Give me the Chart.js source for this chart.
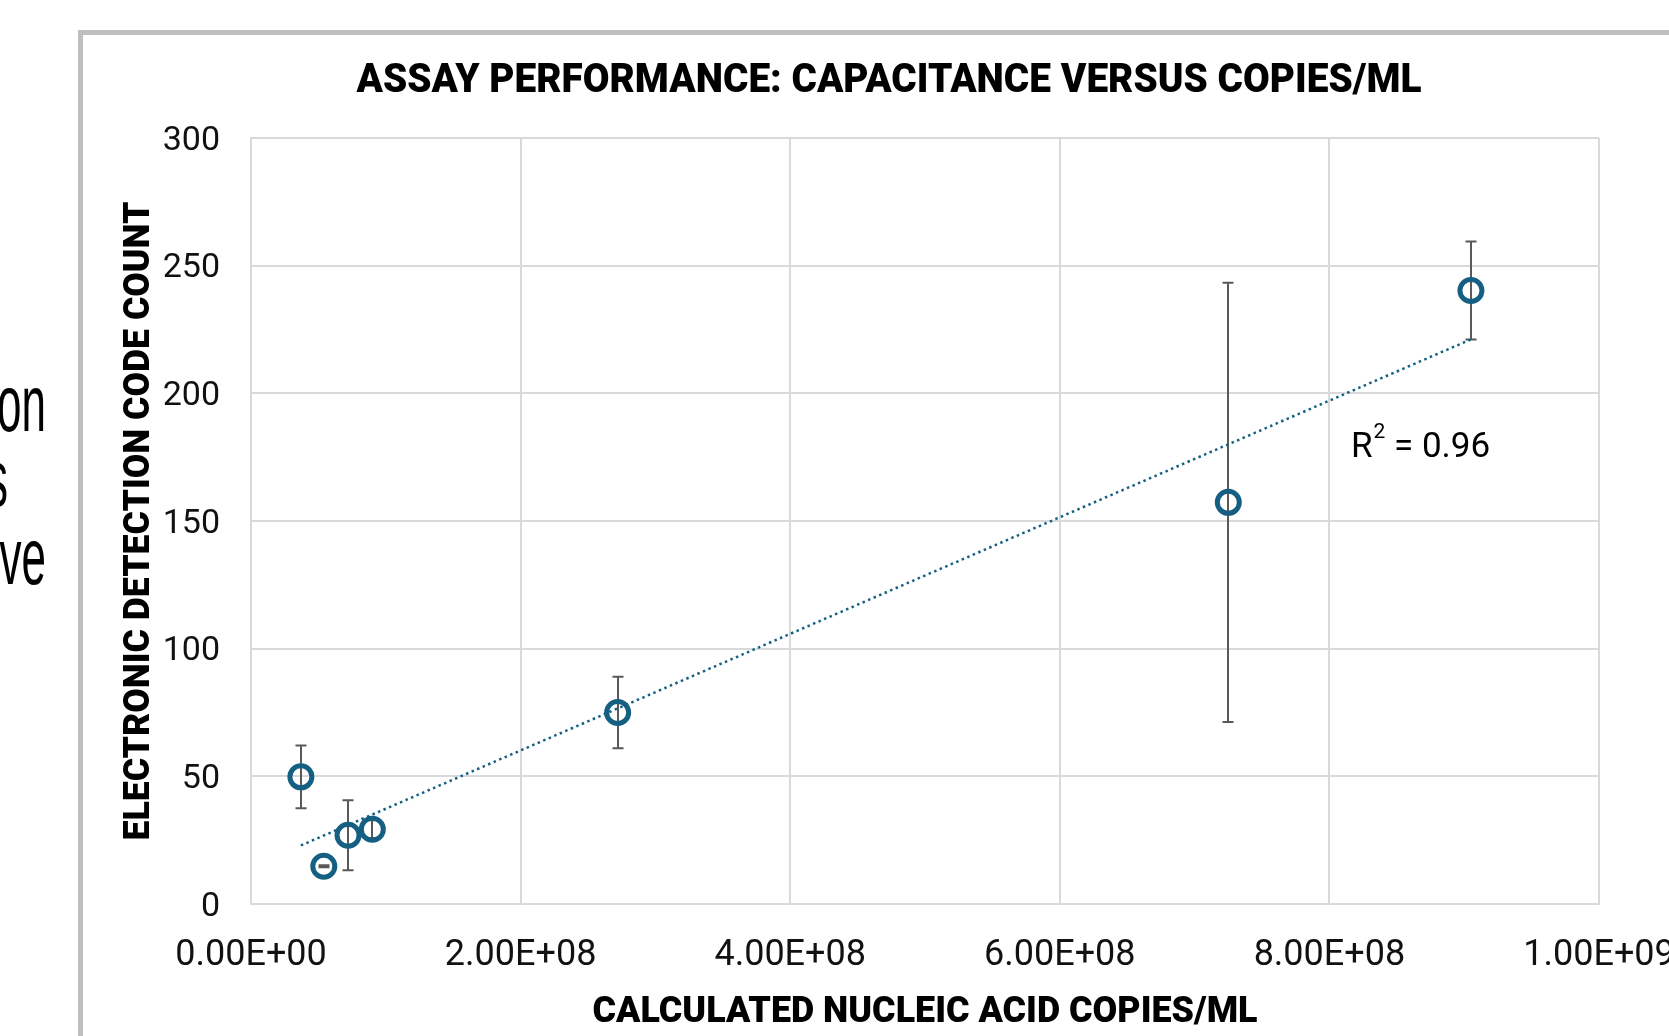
<!DOCTYPE html>
<html>
<head>
<meta charset="utf-8">
<title>Assay performance</title>
<script src="https://cdn.jsdelivr.net/npm/chart.js@4.4.0/dist/chart.umd.min.js"></script>
<style>
  html, body {
    margin: 0;
    width: 1669px;
    height: 1036px;
    overflow: hidden;
    background: #fff;
  }
  .slide-text {
    position: absolute;
    left: -300px;
    width: 346px;
    text-align: right;
    font-family: "Liberation Sans", Arial, sans-serif;
    font-size: 80px;
    line-height: 80px;
    color: #000;
    white-space: nowrap;
    transform: scaleX(0.55);
    transform-origin: right center;
  }
  #panel {
    position: absolute;
    left: 78px;
    top: 30px;
    width: 1700px;
    height: 1100px;
    border-left: 5px solid #bfbfbf;
    border-top: 5px solid #bfbfbf;
    background: #fff;
  }
  #wrap {
    position: absolute;
    left: 0;
    top: 0;
    width: 1612px;
    height: 1001px;
  }
</style>
</head>
<body>
<div class="slide-text" style="top:364px">on</div>
<div class="slide-text" style="top:439px; width:308px">s</div>
<div class="slide-text" style="top:517px">ve</div>

<div id="panel">
  <div id="wrap"><canvas id="grafico"></canvas></div>
</div>

<script>
// datos
const copies = [3.7e7, 5.4e7, 7.2e7, 9.0e7, 2.72e8, 7.25e8, 9.05e8];
const counts = [49.8, 14.8, 26.9, 29.3, 75.0, 157.3, 240.3];
const errors = [12.3, 0.4, 13.7, 3.5, 14.0, 86.0, 19.2];

const xTicks = [0, 2e8, 4e8, 6e8, 8e8, 1e9];
const xTickLabels = ["0.00E+00", "2.00E+08", "4.00E+08", "6.00E+08", "8.00E+08", "1.00E+09"];
const yTicks = [0, 50, 100, 150, 200, 250, 300];

const chartTitle = "ASSAY PERFORMANCE: CAPACITANCE VERSUS COPIES/ML";
const xTitle = "CALCULATED NUCLEIC ACID COPIES/ML";
const yTitle = "ELECTRONIC DETECTION CODE COUNT";

const blue = "#156082";

// regresion lineal para la linea de tendencia
const n = copies.length;
const mx = copies.reduce((a, b) => a + b, 0) / n;
const my = counts.reduce((a, b) => a + b, 0) / n;
let sxx = 0, sxy = 0, syy = 0;
copies.forEach((c, i) => {
  sxx += (c - mx) * (c - mx);
  sxy += (c - mx) * (counts[i] - my);
  syy += (counts[i] - my) * (counts[i] - my);
});
const slope = sxy / sxx;
const intercept = my - slope * mx;
const r2 = (sxy * sxy) / (sxx * syy);
const xMin = Math.min(...copies);
const xMax = Math.max(...copies);
const trend = [
  { x: xMin, y: intercept + slope * xMin },
  { x: xMax, y: intercept + slope * xMax },
];

// donde va la etiqueta R2 (en valores de los ejes)
const r2Pos = { x: 8.16e8, y: 175 };

// texto en negrita "estrecho": no hay fuente condensada, se comprime a lo ancho
const drawNarrow = (ctx, text, x, y, size, width, rotate) => {
  ctx.save();
  ctx.font = "900 " + size + "px Roboto";
  const w = ctx.measureText(text).width;
  ctx.translate(x, y);
  if (rotate) ctx.rotate(-Math.PI / 2);
  ctx.scale(width / w, 1);
  ctx.fillStyle = "#000";
  ctx.textAlign = "center";
  ctx.textBaseline = "alphabetic";
  ctx.fillText(text, 0, 0);
  ctx.restore();
};

const extras = {
  id: "extras",
  beforeDatasetsDraw(chart) {
    const { ctx, scales: { x, y } } = chart;
    ctx.save();
    ctx.strokeStyle = "#595959";
    ctx.lineWidth = 2;
    copies.forEach((c, i) => {
      const px = Math.round(x.getPixelForValue(c));
      const top = y.getPixelForValue(counts[i] + errors[i]);
      const bot = y.getPixelForValue(counts[i] - errors[i]);
      ctx.beginPath();
      ctx.moveTo(px, top);
      ctx.lineTo(px, bot);
      ctx.moveTo(px - 5.5, top);
      ctx.lineTo(px + 5.5, top);
      ctx.moveTo(px - 5.5, bot);
      ctx.lineTo(px + 5.5, bot);
      ctx.stroke();
    });
    ctx.restore();
  },
  afterDatasetsDraw(chart) {
    const { ctx, scales: { x, y } } = chart;
    ctx.save();
    ctx.fillStyle = "#000";
    ctx.textBaseline = "alphabetic";
    ctx.textAlign = "left";
    let tx = x.getPixelForValue(r2Pos.x);
    const ty = y.getPixelForValue(r2Pos.y);
    ctx.font = "35px Roboto";
    ctx.fillText("R", tx, ty);
    tx += ctx.measureText("R").width + 1;
    ctx.font = "21px Roboto";
    ctx.fillText("2", tx, ty - 19);
    tx += ctx.measureText("2").width;
    ctx.font = "35px Roboto";
    ctx.fillText(" = " + r2.toFixed(2), tx, ty);
    ctx.restore();
  },
  afterDraw(chart) {
    const { ctx, chartArea: a } = chart;
    drawNarrow(ctx, chartTitle, chart.width / 2, 57, 41, 1065, false);
    drawNarrow(ctx, xTitle, (a.left + a.right) / 2, chart.height - 14, 36, 665, false);
    drawNarrow(ctx, yTitle, 66, (a.top + a.bottom) / 2, 36, 639, true);
  },
};

new Chart(document.getElementById("grafico"), {
  type: "scatter",
  data: {
    datasets: [
      {
        label: "Count",
        data: copies.map((c, i) => ({ x: c, y: counts[i] })),
        pointStyle: "circle",
        pointRadius: 11,
        pointBorderWidth: 5,
        pointBorderColor: blue,
        pointBackgroundColor: "rgba(0,0,0,0)",
        showLine: false,
      },
      {
        label: "Trend",
        data: trend,
        showLine: true,
        pointRadius: 0,
        borderColor: blue,
        borderWidth: 2.5,
        borderDash: [2.5, 3.5],
        fill: false,
      },
    ],
  },
  options: {
    responsive: true,
    maintainAspectRatio: false,
    animation: false,
    layout: { padding: { top: 103 } },
    plugins: {
      legend: { display: false },
      tooltip: { enabled: false },
      title: { display: false },
    },
    scales: {
      x: {
        type: "linear",
        min: 0,
        max: 1e9,
        afterBuildTicks: (s) => {
          s.ticks = xTicks.map((v) => ({ value: v }));
        },
        afterFit: (s) => {
          s.height = 132;
          s.paddingRight = 96;
        },
        ticks: {
          padding: 30,
          color: "#111",
          font: { family: "Roboto", size: 36 },
          maxRotation: 0,
          callback: (v, i) => xTickLabels[i],
        },
        grid: { color: "#d9d9d9", lineWidth: 2, drawTicks: false },
        border: { color: "#d9d9d9", width: 2 },
      },
      y: {
        min: 0,
        max: 300,
        afterBuildTicks: (s) => {
          s.ticks = yTicks.map((v) => ({ value: v }));
        },
        afterFit: (s) => {
          s.width = 168;
        },
        ticks: {
          padding: 31,
          labelOffset: 3,
          color: "#111",
          font: { family: "Roboto", size: 34 },
        },
        grid: { color: "#d9d9d9", lineWidth: 2, drawTicks: false },
        border: { color: "#d9d9d9", width: 2 },
      },
    },
  },
  plugins: [extras],
});
</script>
</body>
</html>
